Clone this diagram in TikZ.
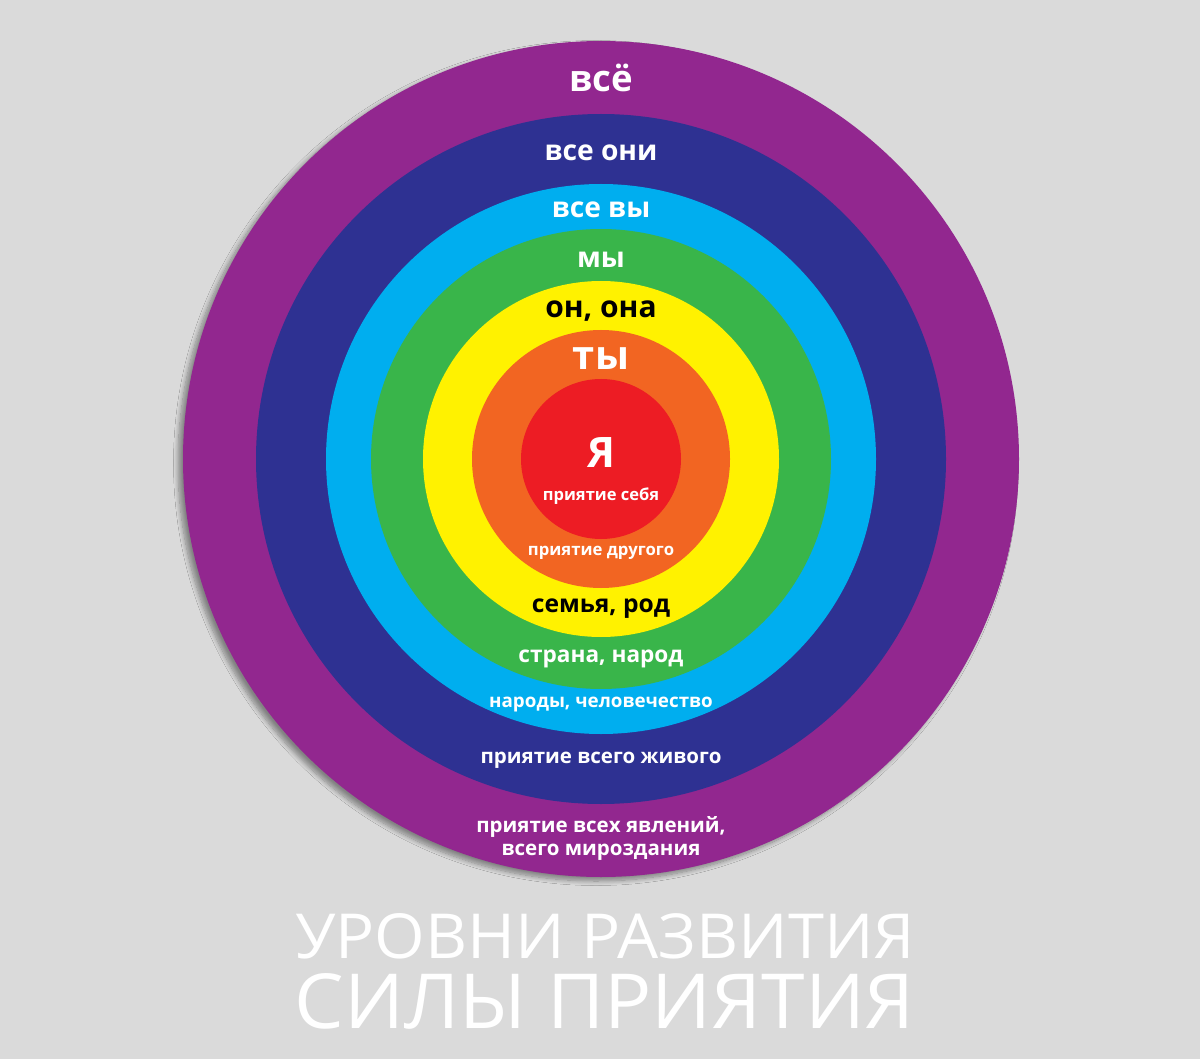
\documentclass[tikz,border=0pt]{standalone}
\usepackage{fontspec}
\setmainfont{Open Sans}
\newfontfamily\titlefont{Open Sans}
\usetikzlibrary{shadows.blur}
\definecolor{cbg}{HTML}{DADADA}
\definecolor{cpurple}{HTML}{92278F}
\definecolor{cnavy}{HTML}{2E3192}
\definecolor{csky}{HTML}{00AEEF}
\definecolor{cgreen}{HTML}{39B54A}
\definecolor{cyellow}{HTML}{FFF200}
\definecolor{corange}{HTML}{F26522}
\definecolor{cred}{HTML}{ED1C24}
\newcommand{\fsz}[1]{\fontsize{#1}{#1}\selectfont}
\tikzset{
  lbl/.style={anchor=base, inner sep=0pt, text=white},
  dark/.style={lbl, text=black},
}
\begin{document}
\begin{tikzpicture}[x=1pt,y=-1pt]
  \fill[cbg] (0,0) rectangle (1200,1059);
  \coordinate (c) at (601,459);
  % rings
  \fill[cpurple, blur shadow={shadow xshift=-5pt, shadow yshift=-4pt,
    shadow blur radius=4.5pt, shadow blur steps=10, shadow opacity=40}] (c) circle (418);
  \fill[cnavy] (c) circle (345);
  \fill[csky] (c) circle (275);
  \fill[cgreen] (c) circle (230);
  \fill[cyellow] (c) circle (178);
  \fill[corange] (c) circle (129);
  \fill[cred] (c) circle (80);
  % upper labels
  \node[lbl, font=\bfseries\fsz{36.5}] (vse) at (601,92) {всё};
  \node[lbl, font=\bfseries\fsz{28.2}] (vseoni) at (601,161) {все они};
  \node[lbl, font=\bfseries\fsz{28.2}] (vsevy) at (601,218) {все вы};
  \node[lbl, font=\bfseries\fsz{28.2}] (my) at (601,268) {мы};
  \node[dark, font=\bfseries\fsz{30}] (onona) at (601,318) {он, она};
  \node[lbl, font=\bfseries\fsz{40}] (ty) at (601,370) {ты};
  \node[lbl, font=\bfseries\fsz{42}] (ya) at (601,467) {Я};
  % lower labels
  \node[lbl, font=\bfseries\fsz{16.5}] (sebya) at (601,500) {приятие себя};
  \node[lbl, font=\bfseries\fsz{16.7}] (drugogo) at (601,555) {приятие другого};
  \node[dark, font=\bfseries\fsz{24.6}] (semya) at (601,612) {семья, род};
  \node[lbl, font=\bfseries\fsz{22.6}] (strana) at (601,662) {страна, народ};
  \node[lbl, font=\bfseries\fsz{18.8}] (narody) at (601,707) {народы, человечество};
  \node[lbl, font=\bfseries\fsz{20.5}] (zhivogo) at (601,763) {приятие всего живого};
  \node[lbl, font=\bfseries\fsz{20.5}] (yavleniy) at (601,832) {приятие всех явлений,};
  \node[lbl, font=\bfseries\fsz{20.5}] (mirozd) at (601,855) {всего мироздания};
  % title
  \node[lbl, font=\titlefont\fsz{60}] (title1) at (605,958)
    {\resizebox{620pt}{45pt}{УРОВНИ РАЗВИТИЯ}};
  \node[lbl, font=\titlefont\fsz{60}] (title2) at (605,1028)
    {\resizebox{620pt}{55pt}{СИЛЫ ПРИЯТИЯ}};
\end{tikzpicture}
\end{document}
